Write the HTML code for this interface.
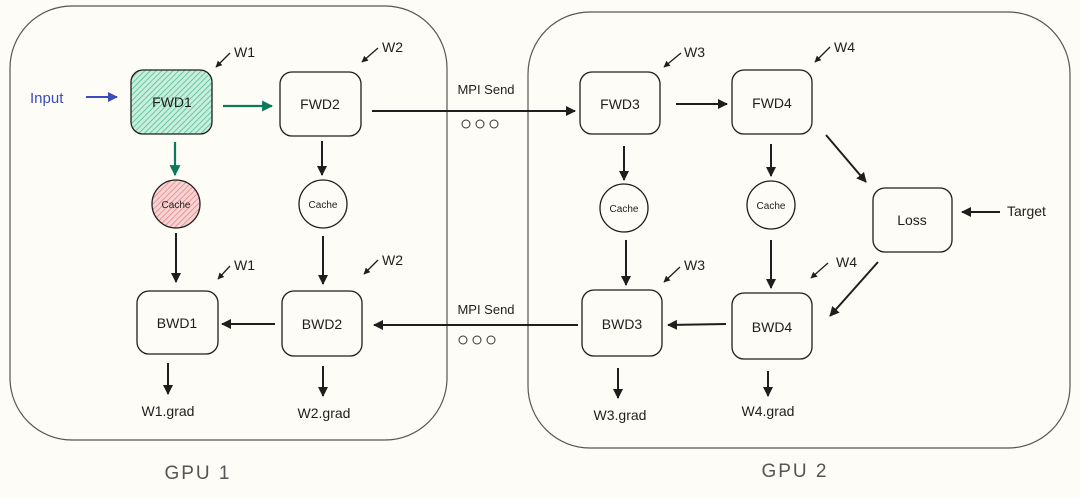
<!DOCTYPE html>
<html><head><meta charset="utf-8"><style>
html,body{margin:0;padding:0;background:#fdfcf6;}
svg{display:block}
text{font-family:"Liberation Sans",sans-serif;fill:#1e1e1e}
</style></head><body>
<svg width="1080" height="498" viewBox="0 0 1080 498" xmlns="http://www.w3.org/2000/svg">
<defs>
<marker id="a" viewBox="0 0 10 10" refX="9" refY="5" markerWidth="5" markerHeight="5" orient="auto"><path d="M0,0 L10,5 L0,10 z" fill="#1e1e1e"/></marker>
<marker id="g" viewBox="0 0 10 10" refX="9" refY="5" markerWidth="5" markerHeight="5" orient="auto"><path d="M0,0 L10,5 L0,10 z" fill="#0c7a5a"/></marker>
<marker id="b" viewBox="0 0 10 10" refX="9" refY="5" markerWidth="5" markerHeight="5" orient="auto"><path d="M0,0 L10,5 L0,10 z" fill="#3b4cc0"/></marker>
<pattern id="hg" width="4" height="4" patternUnits="userSpaceOnUse" patternTransform="rotate(45)"><rect width="4" height="4" fill="#c8eedd"/><line x1="0" y1="0" x2="0" y2="4" stroke="#40b88a" stroke-width="1.4"/></pattern>
<pattern id="hr" width="4" height="4" patternUnits="userSpaceOnUse" patternTransform="rotate(45)"><rect width="4" height="4" fill="#f7d3d3"/><line x1="0" y1="0" x2="0" y2="4" stroke="#e37d7d" stroke-width="1.4"/></pattern>
</defs>
<g fill="none" stroke="#555" stroke-width="1.2">
<rect x="10" y="6" width="437" height="434" rx="62"/>
<rect x="528" y="12" width="542" height="436" rx="62"/>
</g>
<g stroke="#1e1e1e" stroke-width="1.3" fill="none">
<rect x="131" y="70" width="81" height="64" rx="12" fill="url(#hg)"/>
<rect x="280" y="72" width="81" height="64" rx="12"/>
<rect x="580" y="72" width="80" height="62" rx="12"/>
<rect x="732" y="70" width="80" height="64" rx="12"/>
<rect x="873" y="188" width="79" height="64" rx="12"/>
<rect x="137" y="291" width="81" height="63" rx="12"/>
<rect x="282" y="291" width="80" height="65" rx="12"/>
<rect x="582" y="290" width="80" height="66" rx="12"/>
<rect x="732" y="293" width="80" height="66" rx="12"/>
<circle cx="176" cy="204" r="24" fill="url(#hr)"/>
<circle cx="323" cy="204" r="24"/>
<circle cx="624" cy="208" r="24"/>
<circle cx="771" cy="205" r="24"/>
</g>
<g stroke="#1e1e1e" stroke-width="2" fill="none" marker-end="url(#a)">
<line x1="372" y1="111" x2="575" y2="111"/>
<line x1="578" y1="325" x2="374" y2="325"/>
<line x1="275" y1="324" x2="222" y2="324"/>
<line x1="726" y1="324" x2="668" y2="325"/>
<line x1="676" y1="104" x2="727" y2="104"/>
<line x1="826" y1="135" x2="866" y2="182"/>
<line x1="878" y1="262" x2="830" y2="316"/>
<line x1="1000" y1="212" x2="962" y2="212"/>
<line x1="322" y1="141" x2="322" y2="175"/>
<line x1="624" y1="146" x2="624" y2="180"/>
<line x1="771" y1="144" x2="771" y2="176"/>
<line x1="176" y1="233" x2="176" y2="282"/>
<line x1="323" y1="236" x2="323" y2="284"/>
<line x1="626" y1="240" x2="626" y2="285"/>
<line x1="771" y1="240" x2="771" y2="288"/>
<line x1="168" y1="363" x2="168" y2="394"/>
<line x1="323" y1="366" x2="323" y2="396"/>
<line x1="618" y1="368" x2="618" y2="398"/>
<line x1="768" y1="371" x2="768" y2="396"/>
</g>
<g stroke="#1e1e1e" stroke-width="1.3" fill="none" marker-end="url(#a)">
<line x1="230" y1="53" x2="216" y2="67"/>
<line x1="378" y1="48" x2="362" y2="62"/>
<line x1="681" y1="53" x2="664" y2="67"/>
<line x1="830" y1="47" x2="815" y2="62"/>
<line x1="230" y1="266" x2="218" y2="279"/>
<line x1="378" y1="260" x2="364" y2="274"/>
<line x1="680" y1="267" x2="664" y2="282"/>
<line x1="828" y1="263" x2="811" y2="278"/>
</g>
<g stroke="#0c7a5a" stroke-width="2.2" marker-end="url(#g)">
<line x1="223" y1="106" x2="272" y2="106"/>
<line x1="175" y1="142" x2="175" y2="175"/>
</g>
<line x1="86" y1="97" x2="117" y2="97" stroke="#3b4cc0" stroke-width="2" marker-end="url(#b)"/>
<text x="30" y="103" font-size="15" fill="#3b4cc0" style="fill:#3b4cc0">Input</text>
<g font-size="14" text-anchor="middle">
<text x="172" y="107">FWD1</text><text x="320" y="109">FWD2</text><text x="620" y="109">FWD3</text><text x="772" y="108">FWD4</text>
<text x="912" y="225">Loss</text>
<text x="177" y="328">BWD1</text><text x="322" y="329">BWD2</text><text x="622" y="329">BWD3</text><text x="772" y="332">BWD4</text>
</g>
<g font-size="10" text-anchor="middle">
<text x="176" y="208">Cache</text><text x="323" y="208">Cache</text><text x="624" y="212">Cache</text><text x="771" y="209">Cache</text>
</g>
<g font-size="14">
<text x="234" y="57">W1</text><text x="382" y="52">W2</text><text x="684" y="57">W3</text><text x="834" y="52">W4</text>
<text x="234" y="270">W1</text><text x="382" y="265">W2</text><text x="684" y="270">W3</text><text x="836" y="267">W4</text>
<text x="1007" y="216">Target</text>
</g>
<g font-size="14" text-anchor="middle">
<text x="168" y="416">W1.grad</text><text x="324" y="418">W2.grad</text><text x="620" y="420">W3.grad</text><text x="768" y="416">W4.grad</text>
</g>
<g font-size="13" text-anchor="middle" fill="#333">
<text x="486" y="94">MPI Send</text><text x="486" y="314">MPI Send</text>
</g>
<g fill="none" stroke="#333" stroke-width="1">
<circle cx="466" cy="124" r="4"/><circle cx="480" cy="124" r="4"/><circle cx="494" cy="124" r="4"/>
<circle cx="463" cy="340" r="4"/><circle cx="477" cy="340" r="4"/><circle cx="491" cy="340" r="4"/>
</g>
<g font-size="19" text-anchor="middle" style="fill:#555" letter-spacing="2">
<text x="198" y="479" style="fill:#555">GPU 1</text><text x="795" y="477" style="fill:#555">GPU 2</text>
</g>
</svg>
</body></html>
